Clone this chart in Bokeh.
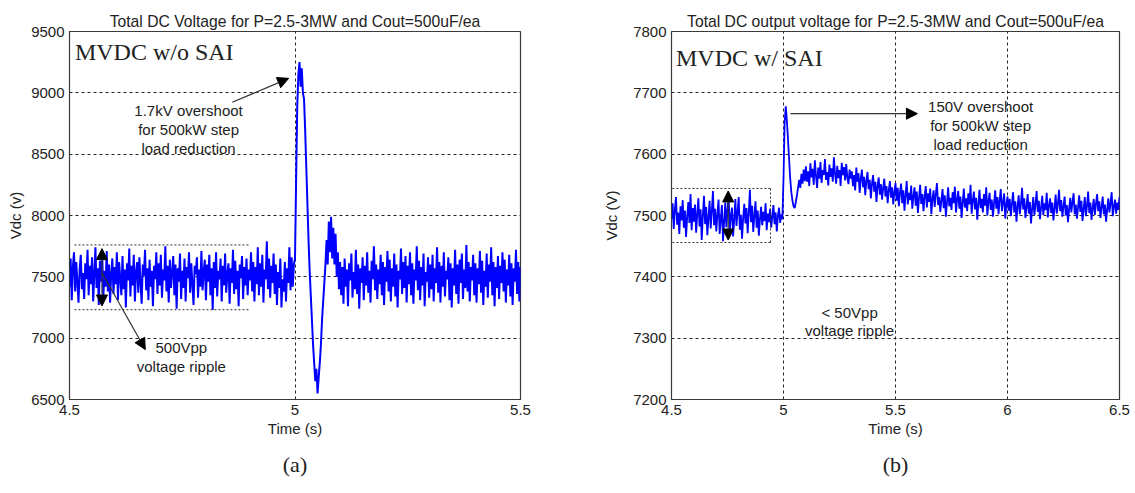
import numpy as np
from bokeh.plotting import figure
from bokeh.layouts import row
from bokeh.models import Range1d, FixedTicker, Label, Arrow, NormalHead, Title
from bokeh.embed import file_html
from bokeh.resources import INLINE

# ---------------- data: panel (a) MVDC w/o SAI ----------------
t0_a = 4.5
dt_a = 0.0025
vdc_a = [
    7420, 7650, 7310, 7580, 7700, 7380, 7620, 7450, 7290, 7560, 7680, 7400, 7530, 7320, 7610, 7480, 7720, 7350, 7590, 7440,
    7660, 7300, 7520, 7740, 7410, 7570, 7270, 7630, 7460, 7690, 7330, 7550, 7420, 7710, 7380, 7600, 7290, 7530, 7650, 7360,
    7580, 7440, 7700, 7310, 7620, 7490, 7350, 7670, 7400, 7560, 7250, 7610, 7470, 7730, 7340, 7590, 7430, 7680, 7300, 7540,
    7620, 7370, 7660, 7450, 7280, 7600, 7510, 7720, 7390, 7570, 7310, 7640, 7420, 7550, 7260, 7590, 7480, 7700, 7360, 7610,
    7430, 7680, 7330, 7560, 7470, 7750, 7380, 7590, 7290, 7640, 7410, 7530, 7670, 7350, 7600, 7240, 7570, 7460, 7690, 7320,
    7550, 7410, 7650, 7300, 7580, 7490, 7700, 7370, 7610, 7440, 7270, 7590, 7520, 7660, 7330, 7560, 7420, 7710, 7390, 7540,
    7640, 7310, 7600, 7460, 7680, 7350, 7570, 7230, 7620, 7410, 7700, 7340, 7550, 7480, 7650, 7300, 7590, 7430, 7690, 7370,
    7520, 7610, 7280, 7570, 7450, 7720, 7360, 7630, 7400, 7550, 7260, 7600, 7490, 7670, 7320, 7580, 7430, 7650, 7350, 7560,
    7470, 7700, 7380, 7620, 7300, 7580, 7440, 7740, 7350, 7610, 7420, 7680, 7290, 7560, 7480, 7790, 7400, 7650, 7330, 7590,
    7450, 7690, 7360, 7600, 7270, 7540, 7410, 7650, 7250, 7480, 7380, 7620, 7300, 7570, 7450, 7740, 7390, 7660, 7420, 7600,
    7650, 8300, 8900, 9150, 9250, 9050, 9200, 9000, 8950, 8700, 8400, 8100, 7800, 7550, 7350, 7150, 6950, 6800, 6650, 6750,
    6550, 6680, 6800, 6950, 7150, 7300, 7450, 7600, 7800, 7600, 7950, 7700, 7990, 7650, 7900, 7600, 7850, 7500, 7700, 7400,
    7620,
    7350, 7580, 7280, 7650, 7420, 7560, 7260, 7610, 7470, 7690, 7330, 7540, 7400, 7720, 7360, 7600, 7240, 7570, 7450, 7660,
    7310, 7590, 7430, 7700, 7370, 7550, 7290, 7630, 7480, 7750, 7390, 7600, 7320, 7560, 7440, 7680, 7350, 7620, 7270, 7580,
    7460, 7710, 7380, 7640, 7300, 7570, 7420, 7690, 7340, 7600, 7250, 7550, 7480, 7730, 7360, 7620, 7410, 7670, 7290, 7590,
    7440, 7700, 7350, 7610, 7280, 7560, 7470, 7750, 7390, 7630, 7310, 7580, 7430, 7690, 7260, 7540, 7460, 7660, 7330, 7600,
    7400, 7680, 7300, 7570, 7450, 7740, 7370, 7620, 7290, 7590, 7420, 7700, 7340, 7550, 7480, 7660, 7310, 7610, 7250, 7570,
    7430, 7720, 7360, 7600, 7280, 7640, 7450, 7690, 7320, 7560, 7410, 7760, 7380, 7620, 7300, 7580, 7470, 7680, 7350, 7610,
    7290, 7570, 7440, 7710, 7370, 7630, 7270, 7550, 7420, 7690, 7330, 7600, 7460, 7740, 7350, 7620, 7260, 7580, 7410, 7670,
    7320, 7590, 7450, 7700, 7380, 7640, 7290, 7560, 7430, 7680, 7340, 7610, 7270, 7570, 7460, 7720, 7360, 7620, 7300, 7580,
]

# ---------------- data: panel (b) MVDC w/ SAI ----------------
t0_b = 4.5
dt_b = 0.005
vdc_b = [
    7495, 7520, 7478, 7510, 7530, 7485, 7505, 7470, 7515, 7492, 7525, 7480, 7508, 7465, 7498, 7522, 7488, 7535, 7476, 7512,
    7490, 7518, 7472, 7503, 7528, 7482, 7510, 7460, 7500, 7532, 7486, 7514, 7468, 7496, 7524, 7479, 7507, 7540, 7484, 7511,
    7474, 7502, 7526, 7470, 7494, 7517, 7458, 7490, 7521, 7481, 7509, 7534, 7475, 7499, 7513, 7466, 7493, 7527, 7483, 7506,
    7530, 7477, 7501, 7462, 7497, 7519, 7487, 7512, 7471, 7504, 7542, 7489, 7516, 7473, 7500, 7523, 7480, 7508, 7467, 7495,
    7514, 7484, 7506, 7491, 7520, 7476, 7503, 7489, 7511, 7480, 7498, 7517, 7486, 7505, 7474, 7499, 7513, 7488, 7502, 7494,
    7560, 7650, 7678, 7655, 7625, 7592, 7560, 7538, 7524, 7515, 7512, 7522, 7533, 7546, 7558, 7545, 7568, 7552, 7575, 7556,
    7580, 7555, 7572, 7548, 7585, 7562, 7576, 7550, 7590, 7565, 7545, 7578, 7560, 7587, 7553, 7574, 7566, 7592, 7558, 7571,
    7549, 7583, 7563, 7577, 7555, 7595, 7568, 7552, 7581, 7561, 7574, 7548, 7586, 7566, 7579, 7557, 7584, 7562, 7551, 7575,
    7560,
    7572, 7548, 7566, 7541, 7578, 7555, 7569, 7537, 7560, 7575, 7546, 7563, 7533, 7557, 7571, 7543, 7558, 7528, 7552, 7566,
    7539, 7555, 7522, 7549, 7562, 7534, 7551, 7526, 7545, 7560, 7531, 7548, 7520, 7541, 7556, 7529, 7546, 7518, 7538, 7553,
    7524, 7545, 7515, 7538, 7552, 7520, 7541, 7508, 7533, 7556, 7518, 7537, 7525, 7549, 7511, 7532, 7546, 7516, 7539, 7504,
    7528, 7550, 7519, 7535, 7507, 7531, 7548, 7513, 7536, 7522, 7544, 7502, 7527, 7541, 7514, 7535, 7553, 7517, 7530, 7506,
    7525, 7543, 7512, 7533, 7498, 7522, 7546, 7515, 7529, 7509, 7538, 7520, 7547, 7505, 7526, 7540, 7511, 7531, 7496, 7521,
    7544, 7513, 7528, 7507, 7536, 7518, 7550, 7503, 7524, 7539, 7510, 7529, 7493, 7519, 7542, 7512, 7527, 7505, 7535, 7516,
    7546, 7500, 7523, 7537, 7509, 7526, 7498, 7520, 7541, 7511, 7530, 7502, 7525, 7543, 7507, 7521, 7536, 7495, 7518, 7531,
    7508, 7527, 7499, 7520, 7538, 7505, 7523, 7490, 7515, 7533, 7502, 7519, 7545, 7510, 7528, 7496, 7514, 7535, 7503, 7522,
    7487, 7511, 7530, 7500, 7518, 7540, 7506, 7524, 7494, 7513, 7532, 7501, 7520, 7509, 7537, 7497, 7516, 7528, 7504, 7521,
    7492, 7512, 7534, 7503, 7519, 7542, 7507, 7525, 7498, 7515, 7531, 7500, 7517, 7489, 7510, 7529, 7505, 7522, 7536, 7502,
    7518, 7495, 7513, 7533, 7506, 7524, 7491, 7511, 7530, 7499, 7516, 7539, 7504, 7521, 7493, 7512, 7527, 7501, 7519, 7535,
    7507, 7523, 7496, 7514, 7531, 7502, 7518, 7490, 7510, 7528, 7505, 7520, 7538, 7499, 7515, 7526, 7503, 7521, 7509, 7530,
]

xticks_a = [4.5, 5, 5.5]
yticks_a = [6500, 7000, 7500, 8000, 8500, 9000, 9500]
xticks_b = [4.5, 5, 5.5, 6, 6.5]
yticks_b = [7200, 7300, 7400, 7500, 7600, 7700, 7800]

title_a = "Total DC Voltage for P=2.5-3MW and Cout=500uF/ea"
title_b = "Total DC output voltage for P=2.5-3MW and Cout=500uF/ea"

# annotation values
ripple_a = [7232, 7760]      # 500 Vpp band
ripple_b = [7456, 7544]      # < 50 Vpp band

SANS = "Liberation Sans"
SERIF = "Liberation Serif"
TXT = "#222222"


def fmt(v):
    return str(int(v)) if float(v).is_integer() else str(v)


def make_fig(width, left, right, bottom, xr, yr, xticks, yticks, ylabel, ylab_standoff, title, caption):
    p = figure(width=width, height=493, x_range=Range1d(*xr), y_range=Range1d(*yr),
               output_backend="svg", toolbar_location=None,
               min_border_left=left, min_border_right=right,
               min_border_top=31, min_border_bottom=bottom,
               background_fill_color="white", border_fill_color="white")
    p.title.text = title
    p.title.align = "center"
    p.title.vertical_align = "middle"
    p.title.text_font = SANS
    p.title.text_font_size = "15.7px"
    p.title.text_font_style = "normal"
    p.title.text_color = TXT
    p.title.standoff = 2
    p.add_layout(Title(text=caption, align="center", text_font=SERIF, text_font_size="22px",
                       text_font_style="normal", text_color=TXT, standoff=20), "below")
    p.outline_line_color = "#3a3a3a"
    p.outline_line_width = 1.2
    p.xaxis.ticker = FixedTicker(ticks=xticks)
    p.yaxis.ticker = FixedTicker(ticks=yticks)
    p.xaxis.major_label_overrides = {t: fmt(t) for t in xticks}
    p.yaxis.major_label_overrides = {t: fmt(t) for t in yticks}
    for ax in (p.xaxis, p.yaxis):
        ax.major_tick_in = 0
        ax.major_tick_out = 0
        ax.minor_tick_in = 0
        ax.minor_tick_out = 0
        ax.axis_line_color = "#3a3a3a"
        ax.major_label_text_font = SANS
        ax.major_label_text_font_size = "15px"
        ax.major_label_text_color = TXT
        ax.axis_label_text_font = SANS
        ax.axis_label_text_font_size = "15px"
        ax.axis_label_text_font_style = "normal"
        ax.axis_label_text_color = TXT
        ax.major_label_standoff = 5
    p.xaxis.axis_label = "Time (s)"
    p.xaxis.axis_label_standoff = 2
    p.yaxis.axis_label = ylabel
    p.yaxis.axis_label_standoff = ylab_standoff
    for g in (p.xgrid, p.ygrid):
        g.grid_line_color = "black"
        g.grid_line_dash = "3 3"
        g.grid_line_width = 1
        g.grid_line_alpha = 0.85
    return p


def text(p, x, y, s, size="15px", font=SANS, align="center", baseline="middle"):
    p.add_layout(Label(x=x, y=y, text=s, text_font=font, text_font_size=size,
                       text_color=TXT, text_align=align, text_baseline=baseline))


def arrow(p, x0, y0, x1, y1, both=False):
    head = NormalHead(size=11, fill_color="black", line_color="black")
    kw = dict(end=head, x_start=x0, y_start=y0, x_end=x1, y_end=y1,
              line_color="#333333", line_width=1.2)
    if both:
        kw["start"] = NormalHead(size=11, fill_color="black", line_color="black")
    p.add_layout(Arrow(**kw))


# ---------------- panel (a) ----------------
pa = make_fig(600, 69, 80, 93, (4.5, 5.5), (6500, 9500), xticks_a, yticks_a, "Vdc (v)", 4, title_a, "(a)")
ta = [t0_a + dt_a * i for i in range(len(vdc_a))]
pa.line(ta, vdc_a, line_color="#0000ff", line_width=2)
for yv in ripple_a:
    pa.line([4.511, 4.901], [yv, yv], line_color="#333333", line_dash="2 2", line_width=1)
arrow(pa, 4.572, ripple_a[0] + 30, 4.572, ripple_a[1] - 30, both=True)
arrow(pa, 4.572, 7533, 4.668, 6907)
arrow(pa, 4.861, 8923, 4.986, 9118)
text(pa, 4.512, 9329, "MVDC w/o SAI", size="24px", font=SERIF, align="left")
text(pa, 4.764, 8858, "1.7kV overshoot")
text(pa, 4.764, 8703, "for 500kW step")
text(pa, 4.764, 8549, "load reduction")
text(pa, 4.748, 6920, "500Vpp")
text(pa, 4.748, 6765, "voltage ripple")

# ---------------- panel (b) ----------------
pb = make_fig(535, 71, 16, 94, (4.5, 6.5), (7200, 7800), xticks_b, yticks_b, "Vdc (V)", 10, title_b, "(b)")
tb = [t0_b + dt_b * i for i in range(len(vdc_b))]
pb.line(tb, vdc_b, line_color="#0000ff", line_width=1.8)
for yv in ripple_b:
    pb.line([4.504, 4.942], [yv, yv], line_color="#333333", line_dash="2 2", line_width=1)
pb.line([4.942, 4.942], ripple_b, line_color="#333333", line_dash="2 2", line_width=1)
arrow(pb, 4.753, ripple_b[0] + 4, 4.753, ripple_b[1] - 4, both=True)
arrow(pb, 5.031, 7666, 5.598, 7666)
text(pb, 4.52, 7756, "MVDC w/ SAI", size="24px", font=SERIF, align="left")
text(pb, 5.88, 7678, "150V overshoot")
text(pb, 5.88, 7647, "for 500kW step")
text(pb, 5.88, 7616, "load reduction")
text(pb, 5.295, 7342, "< 50Vpp")
text(pb, 5.295, 7313, "voltage ripple")

layout = row(pa, pb)
open("out.html", "w").write(file_html(layout, INLINE))
